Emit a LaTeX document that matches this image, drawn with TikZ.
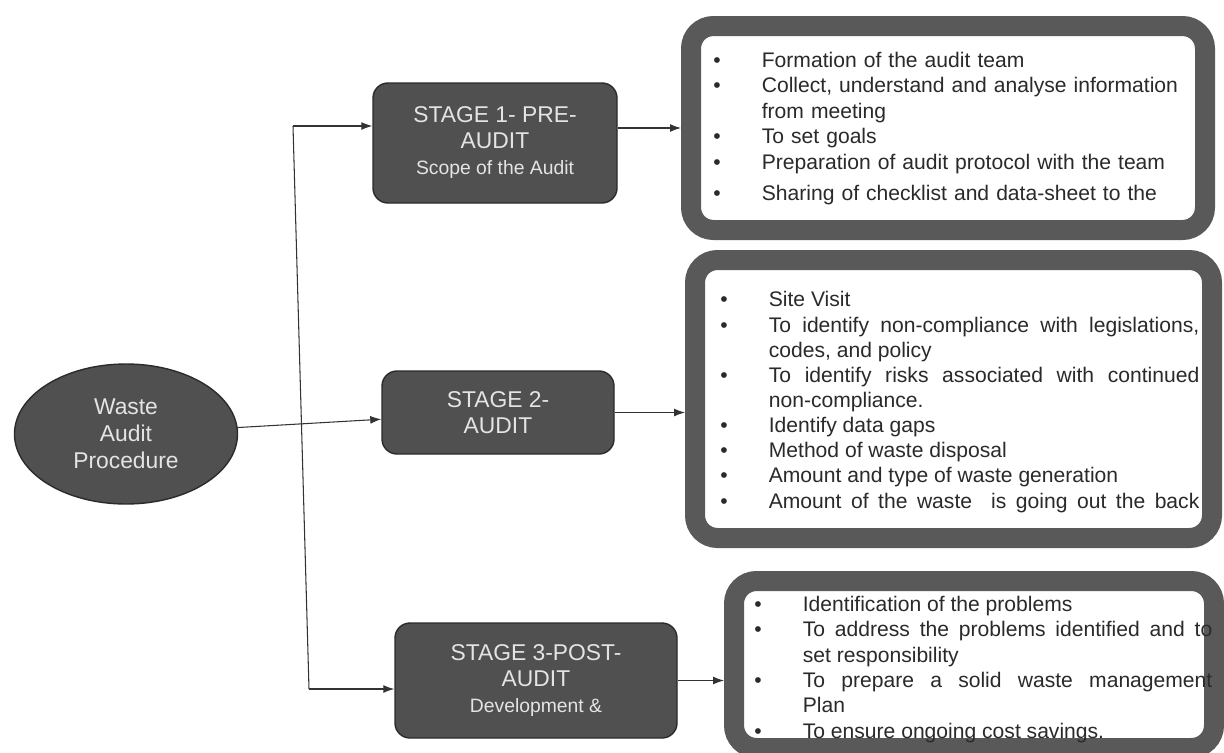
\documentclass[tikz,border=0pt]{standalone}
\usepackage{fontspec}
\setmainfont{Liberation Sans}
\usetikzlibrary{arrows.meta,shapes.geometric}

\definecolor{stagegray}{HTML}{505050}
\definecolor{framegray}{HTML}{595959}
\definecolor{edgegray}{HTML}{2B2B2B}
\definecolor{linegray}{HTML}{333333}
\definecolor{labelwhite}{HTML}{E4E4E4}
\definecolor{itemgray}{HTML}{2A2A2A}

\newenvironment{auditlist}{%
  \begin{list}{\textbullet}{%
    \setlength{\leftmargin}{0.97cm}%
    \setlength{\labelwidth}{0.97cm}%
    \setlength{\labelsep}{0pt}%
    \setlength{\itemsep}{0pt}%
    \setlength{\parsep}{0pt}%
    \setlength{\topsep}{0pt}%
    \setlength{\partopsep}{0pt}%
    \renewcommand{\makelabel}[1]{##1\hfil}}}%
  {\end{list}}

\begin{document}
\begin{tikzpicture}[
    link/.style={draw=linegray, line width=0.6pt},
    arrowlink/.style={link, -{Latex[length=2.2mm,width=1.6mm]}},
    procnode/.style={ellipse, draw=edgegray, line width=0.8pt, fill=stagegray, text=labelwhite, align=center, inner sep=0pt, minimum width=4.46cm, minimum height=2.8cm, font=\fontsize{13}{15.3}\selectfont},
    stagebox/.style={rectangle, rounded corners=0.3cm, draw=edgegray, line width=0.8pt, fill=stagegray, text=labelwhite, align=center, inner sep=0pt, font=\fontsize{13}{14.8}\selectfont},
    framebox/.style={rectangle, rounded corners=0.45cm, draw=framegray, line width=0.4cm, fill=white, inner sep=0pt},
    itembox/.style={anchor=north west, inner sep=0pt, text=itemgray, font=\fontsize{12}{14.3}\selectfont}]

  \useasboundingbox (0,0) rectangle (24.48,-15.04);

  \node[procnode] (proc) at (2.52,-8.68) {Waste\\Audit\\Procedure};

  \node[stagebox, minimum width=4.88cm, minimum height=2.4cm] (s1) at (9.9,-2.86)
    {STAGE 1- PRE-\\AUDIT\\{\fontsize{11}{13}\selectfont Scope of the Audit}};
  \node[stagebox, minimum width=4.64cm, minimum height=1.66cm] (s2) at (9.96,-8.25)
    {STAGE 2-\\AUDIT};
  \node[stagebox, minimum width=5.64cm, minimum height=2.3cm] (s3) at (10.72,-13.61)
    {STAGE 3-POST-\\AUDIT\\{\fontsize{11}{13}\selectfont Development \&}};

  \node[framebox, minimum width=10.28cm, minimum height=4.08cm] (b1) at (18.96,-2.56) {};
  \node[framebox, minimum width=10.34cm, minimum height=5.56cm] (b2) at (19.07,-7.98) {};
  \node[framebox, minimum width=9.6cm, minimum height=3.34cm] (b3) at (19.48,-13.29) {};

  \node[itembox, text width=9.64cm, align=left, font=\fontsize{12}{14.6}\selectfont] (l1) at (14.26,-0.82) {%
    \begin{auditlist}
      \item Formation of the audit team
      \item Collect, understand and analyse information\newline from meeting
      \item To set goals
      \item Preparation of audit protocol with the team\vspace{3pt}
      \item Sharing of checklist and data-sheet to the
    \end{auditlist}};
  \node[itembox, text width=9.58cm, align=justify] (l2) at (14.4,-5.63) {%
    \begin{auditlist}
      \item Site Visit
      \item To identify non-compliance with legislations,\linebreak codes, and policy
      \item To identify risks associated with continued\linebreak non-compliance.
      \item Identify data gaps
      \item Method of waste disposal
      \item Amount and type of waste generation
      \item Amount of the waste \ is going out the back{\parfillskip=0pt\par}
    \end{auditlist}};
  \node[itembox, text width=9.16cm, align=justify, font=\fontsize{12}{14.4}\selectfont] (l3) at (15.08,-11.72) {%
    \begin{auditlist}
      \item Identification of the problems
      \item To address the problems identified and to\linebreak set responsibility
      \item To prepare a solid waste management\linebreak Plan
      \item To ensure ongoing cost savings.
    \end{auditlist}};

  \coordinate (jtop) at (5.86,-2.52);
  \coordinate (jbot) at (6.18,-13.78);
  \draw[link] (jtop) -- (jbot);
  \draw[arrowlink] (jtop) -- (jtop -| s1.west);
  \draw[arrowlink] (jbot) -- (jbot -| s3.west);
  \draw[arrowlink] (proc) -- (s2);
  \draw[arrowlink] (s1.east |- b1.west) -- (b1.west);
  \draw[arrowlink] (s2.east) -- (s2.east -| b2.west);
  \draw[arrowlink] (s3.east) -- (s3.east -| b3.west);

\end{tikzpicture}
\end{document}
